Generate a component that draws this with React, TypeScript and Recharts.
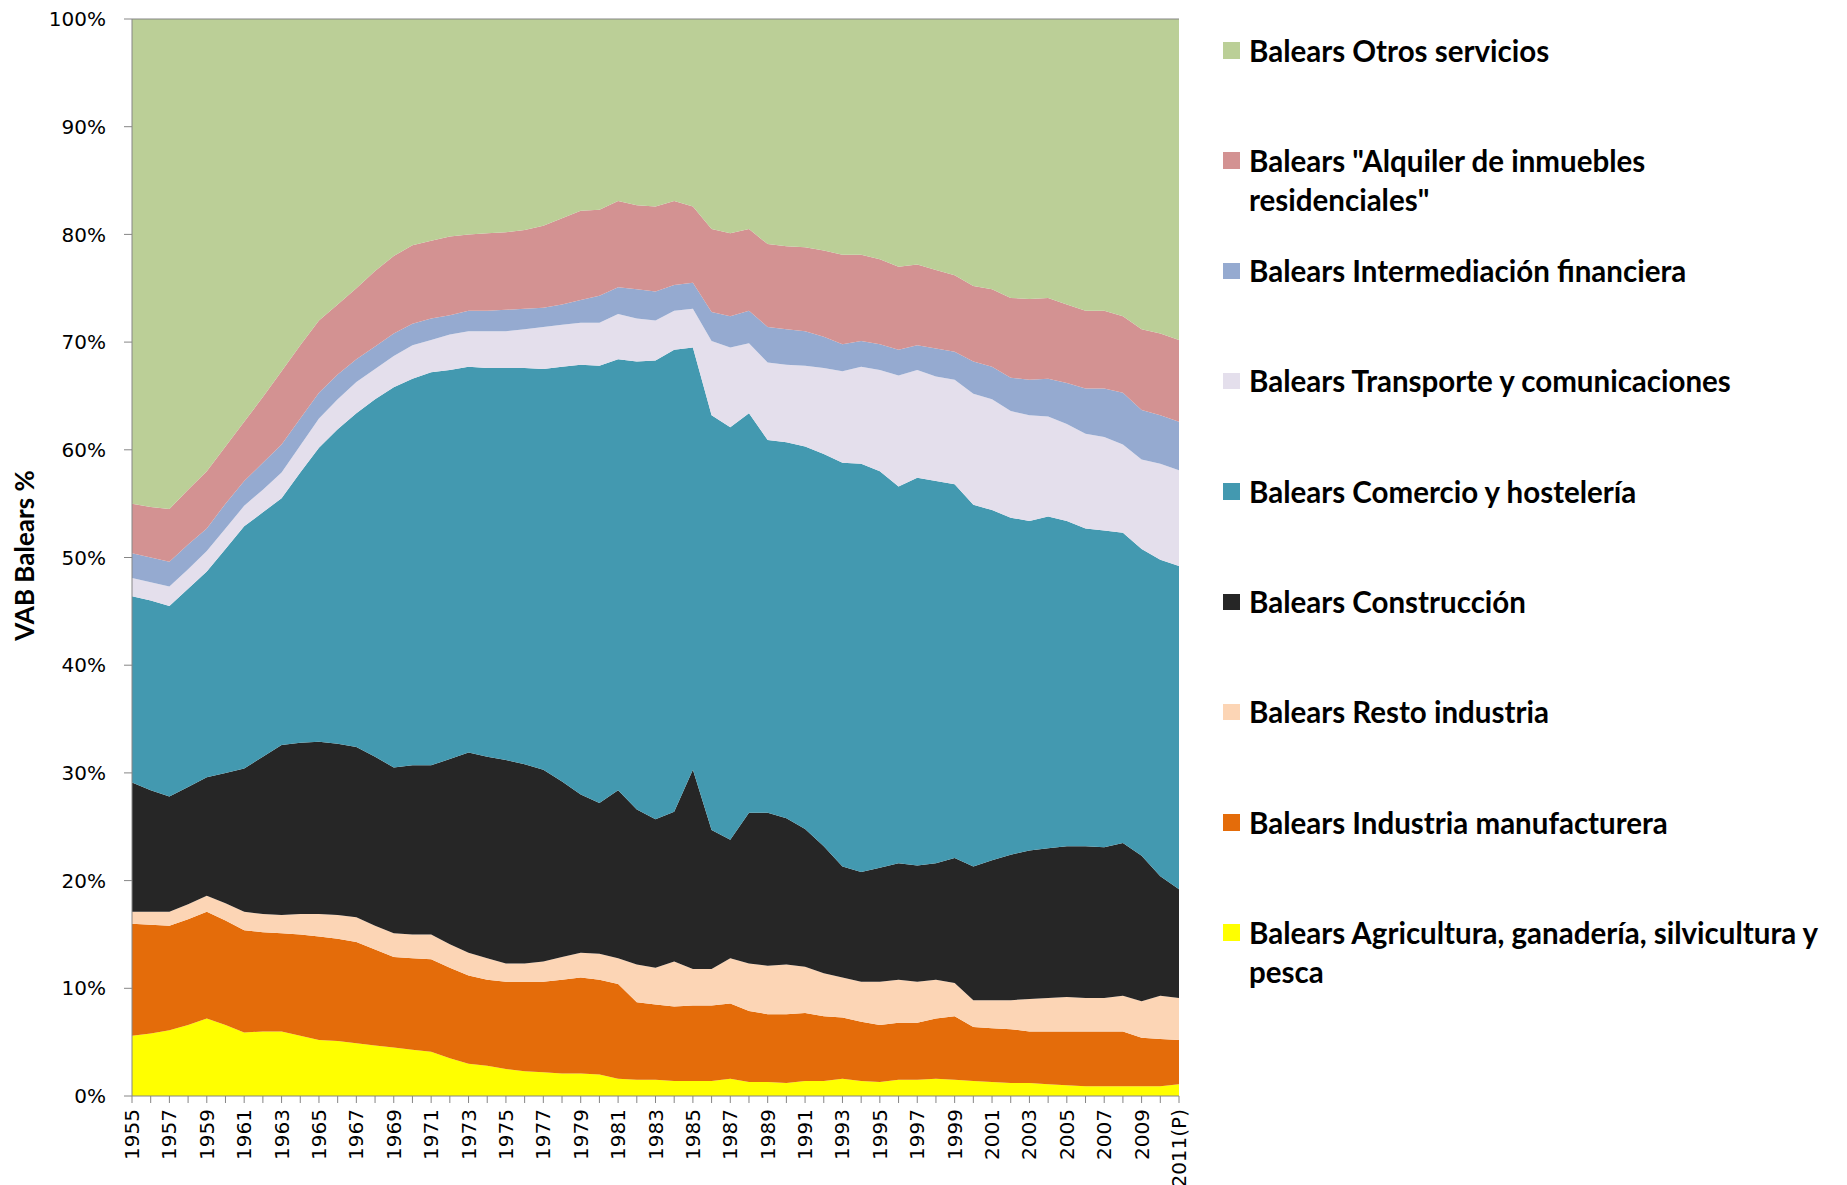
import React from 'react';
import { AreaChart, Area, XAxis, YAxis, ReferenceLine, Label } from 'recharts';

const years = [
  '1955', '1956', '1957', '1958', '1959', '1960', '1961', '1962', '1963', '1964',
  '1965', '1966', '1967', '1968', '1969', '1970', '1971', '1972', '1973', '1974',
  '1975', '1976', '1977', '1978', '1979', '1980', '1981', '1982', '1983', '1984',
  '1985', '1986', '1987', '1988', '1989', '1990', '1991', '1992', '1993', '1994',
  '1995', '1996', '1997', '1998', '1999', '2000', '2001', '2002', '2003', '2004',
  '2005', '2006', '2007', '2008', '2009', '2010', '2011(P)',
];

const agricultura = [
  5.6, 5.8, 6.1, 6.6, 7.2, 6.6, 5.9, 6.0, 6.0, 5.6,
  5.2, 5.1, 4.9, 4.7, 4.5, 4.3, 4.1, 3.5, 3.0, 2.8,
  2.5, 2.3, 2.2, 2.1, 2.1, 2.0, 1.6, 1.5, 1.5, 1.4,
  1.4, 1.4, 1.6, 1.3, 1.3, 1.2, 1.4, 1.4, 1.6, 1.4,
  1.3, 1.5, 1.5, 1.6, 1.5, 1.4, 1.3, 1.2, 1.2, 1.1,
  1.0, 0.9, 0.9, 0.9, 0.9, 0.9, 1.1,
];
const manufacturera = [
  10.4, 10.1, 9.7, 9.8, 9.9, 9.7, 9.5, 9.2, 9.1, 9.4,
  9.6, 9.5, 9.4, 8.9, 8.4, 8.5, 8.6, 8.4, 8.2, 8.0,
  8.1, 8.3, 8.4, 8.7, 8.9, 8.8, 8.8, 7.2, 7.0, 6.9,
  7.0, 7.0, 7.0, 6.6, 6.3, 6.4, 6.3, 6.0, 5.7, 5.5,
  5.3, 5.3, 5.3, 5.6, 5.9, 5.0, 5.0, 5.0, 4.8, 4.9,
  5.0, 5.1, 5.1, 5.1, 4.5, 4.4, 4.1,
];
const restoIndustria = [
  1.1, 1.2, 1.3, 1.4, 1.5, 1.6, 1.7, 1.7, 1.7, 1.9,
  2.1, 2.2, 2.3, 2.2, 2.2, 2.2, 2.3, 2.2, 2.1, 2.0,
  1.7, 1.7, 1.9, 2.1, 2.3, 2.4, 2.4, 3.5, 3.4, 4.2,
  3.4, 3.4, 4.2, 4.4, 4.5, 4.6, 4.3, 4.0, 3.7, 3.7,
  4.0, 4.0, 3.8, 3.6, 3.1, 2.5, 2.6, 2.7, 3.0, 3.1,
  3.2, 3.1, 3.1, 3.3, 3.4, 4.0, 3.9,
];
const construccion = [
  12.0, 11.3, 10.7, 10.9, 11.0, 12.1, 13.3, 14.6, 15.8, 15.9,
  16.0, 15.9, 15.8, 15.7, 15.4, 15.7, 15.7, 17.2, 18.6, 18.7,
  18.9, 18.5, 17.8, 16.3, 14.7, 14.0, 15.6, 14.4, 13.8, 13.9,
  18.5, 12.9, 11.0, 14.0, 14.2, 13.6, 12.8, 11.8, 10.3, 10.2,
  10.6, 10.8, 10.8, 10.8, 11.6, 12.4, 13.0, 13.5, 13.8, 13.9,
  14.0, 14.1, 14.0, 14.2, 13.5, 11.1, 10.1,
];
const comercio = [
  17.3, 17.6, 17.7, 18.4, 19.1, 20.8, 22.5, 22.7, 22.9, 25.1,
  27.3, 29.2, 31.0, 33.2, 35.3, 35.9, 36.5, 36.1, 35.8, 36.1,
  36.4, 36.8, 37.2, 38.5, 39.9, 40.6, 40.0, 41.6, 42.6, 42.9,
  39.2, 38.5, 38.3, 37.1, 34.6, 34.9, 35.5, 36.4, 37.5, 37.9,
  36.8, 35.0, 36.0, 35.5, 34.7, 33.6, 32.5, 31.3, 30.6, 30.8,
  30.2, 29.5, 29.4, 28.8, 28.5, 29.4, 30.0,
];
const transporte = [
  1.7, 1.7, 1.8, 1.8, 1.9, 1.9, 1.9, 2.1, 2.4, 2.5,
  2.7, 2.8, 2.9, 2.8, 2.9, 3.1, 3.0, 3.3, 3.3, 3.4,
  3.4, 3.6, 3.9, 3.9, 3.9, 4.0, 4.2, 4.0, 3.7, 3.6,
  3.6, 6.9, 7.4, 6.5, 7.2, 7.2, 7.5, 8.0, 8.5, 9.0,
  9.4, 10.3, 10.0, 9.7, 9.7, 10.3, 10.3, 9.9, 9.8, 9.3,
  9.0, 8.8, 8.7, 8.2, 8.3, 8.9, 8.9,
];
const financiera = [
  2.3, 2.3, 2.3, 2.3, 2.1, 2.3, 2.3, 2.5, 2.6, 2.5,
  2.4, 2.3, 2.1, 2.1, 2.1, 2.0, 2.0, 1.8, 1.9, 1.9,
  2.0, 1.9, 1.8, 1.9, 2.1, 2.5, 2.5, 2.7, 2.7, 2.4,
  2.4, 2.7, 2.9, 3.0, 3.3, 3.3, 3.2, 2.9, 2.5, 2.4,
  2.4, 2.4, 2.3, 2.6, 2.6, 3.0, 3.0, 3.1, 3.3, 3.5,
  3.8, 4.2, 4.5, 4.8, 4.6, 4.5, 4.5,
];
const alquiler = [
  4.6, 4.7, 4.9, 5.1, 5.3, 5.3, 5.5, 6.1, 6.8, 6.8,
  6.7, 6.5, 6.6, 7.0, 7.2, 7.3, 7.2, 7.3, 7.1, 7.2,
  7.2, 7.3, 7.6, 8.0, 8.3, 8.0, 8.0, 7.8, 7.9, 7.8,
  7.1, 7.7, 7.7, 7.6, 7.7, 7.7, 7.8, 8.0, 8.3, 8.0,
  7.9, 7.7, 7.5, 7.3, 7.1, 7.0, 7.2, 7.4, 7.5, 7.5,
  7.3, 7.2, 7.2, 7.1, 7.5, 7.6, 7.6,
];
const otrosServicios = [
  45.0, 45.3, 45.5, 43.7, 42.0, 39.7, 37.4, 35.1, 32.7, 30.3,
  28.0, 26.5, 25.0, 23.4, 22.0, 21.0, 20.6, 20.2, 20.0, 19.9,
  19.8, 19.6, 19.2, 18.5, 17.8, 17.7, 16.9, 17.3, 17.4, 16.9,
  17.4, 19.5, 19.9, 19.5, 20.9, 21.1, 21.2, 21.5, 21.9, 21.9,
  22.3, 23.0, 22.8, 23.3, 23.8, 24.8, 25.1, 25.9, 26.0, 25.9,
  26.5, 27.1, 27.1, 27.6, 28.8, 29.2, 29.8,
];

const yTicks = [0, 0.1, 0.2, 0.3, 0.4, 0.5, 0.6, 0.7, 0.8, 0.9, 1];

// Series, bottom of the stack first
const series = [
  { key: 'agri', values: agricultura, color: '#FFFF00', lines: ['Balears Agricultura, ganadería, silvicultura y', 'pesca'] },
  { key: 'manuf', values: manufacturera, color: '#E46C0A', lines: ['Balears Industria manufacturera'] },
  { key: 'resto', values: restoIndustria, color: '#FCD5B5', lines: ['Balears Resto industria'] },
  { key: 'constr', values: construccion, color: '#262626', lines: ['Balears Construcción'] },
  { key: 'comercio', values: comercio, color: '#4399B0', lines: ['Balears Comercio y hostelería'] },
  { key: 'transp', values: transporte, color: '#E4DFEC', lines: ['Balears Transporte y comunicaciones'] },
  { key: 'fin', values: financiera, color: '#95AAD0', lines: ['Balears Intermediación financiera'] },
  { key: 'alq', values: alquiler, color: '#D39292', lines: ['Balears "Alquiler de inmuebles', 'residenciales"'] },
  { key: 'otros', values: otrosServicios, color: '#BBCF97', lines: ['Balears Otros servicios'] },
];

const data = years.map((year, i) => {
  const row: Record<string, string | number> = { year };
  series.forEach((s) => {
    row[s.key] = s.values[i];
  });
  return row;
});

const AXIS = '#868686';
const TICK_FONT = '"DejaVu Sans", Verdana, sans-serif';
const LABEL_FONT = 'Lato, "Open Sans", sans-serif';

const XTick = (props: any) => {
  const { x, y, payload } = props;
  const idx = years.indexOf(payload.value);
  if (idx % 2 !== 0) return <g />;
  return (
    <g transform={`translate(${x},${y})`}>
      <text
        transform="rotate(-90)"
        textAnchor="end"
        dominantBaseline="central"
        fontFamily={TICK_FONT}
        fontSize={20}
        fill="#000"
      >
        {payload.value}
      </text>
    </g>
  );
};

const YTitle = (props: any) => {
  const vb = props.viewBox || { y: 19, height: 1077 };
  const cy = vb.y + vb.height / 2 - 2;
  return (
    <text
      x={24}
      y={cy}
      transform={`rotate(-90, 24, ${cy})`}
      textAnchor="middle"
      dominantBaseline="central"
      fontFamily={LABEL_FONT}
      fontWeight={700}
      fontSize={26}
      fill="#000"
    >
      VAB Balears %
    </text>
  );
};

const LegendBlock = () => {
  const entries = [...series].reverse();
  return (
    <div style={{ position: 'absolute', left: 0, top: 0 }}>
      {entries.map((s, i) => {
        const cy = 50 + i * 110.3;
        return (
          <div key={s.key}>
            <div
              style={{
                position: 'absolute',
                left: 1223,
                top: cy - 8,
                width: 16.5,
                height: 16.5,
                background: s.color,
              }}
            />
            <div
              style={{
                position: 'absolute',
                left: 1249,
                top: cy - 19.5,
                whiteSpace: 'nowrap',
                fontFamily: LABEL_FONT,
                fontWeight: 700,
                fontSize: 29.5,
                lineHeight: '39px',
                color: '#000',
              }}
            >
              {s.lines.map((l, j) => (
                <div key={j}>{l}</div>
              ))}
            </div>
          </div>
        );
      })}
    </div>
  );
};

export default function App() {
  return (
    <div style={{ position: 'absolute', left: 0, top: 0, width: 1847, height: 1185, background: '#fff' }}>
      <AreaChart
        width={1847}
        height={1185}
        data={data}
        stackOffset="expand"
        margin={{ top: 19, right: 668, bottom: 0, left: 0 }}
      >
        <XAxis
          dataKey="year"
          interval={0}
          height={89}
          tickSize={7}
          tickMargin={6}
          tick={<XTick />}
          stroke={AXIS}
          tickLine={{ stroke: AXIS }}
          axisLine={{ stroke: AXIS }}
        />
        <YAxis
          width={132}
          domain={[0, 1]}
          ticks={yTicks}
          tickFormatter={(v: number) => `${Math.round(v * 100)}%`}
          tickSize={8}
          tickMargin={18}
          tick={{ fontFamily: TICK_FONT, fontSize: 20, fill: '#000' }}
          stroke={AXIS}
          tickLine={{ stroke: AXIS }}
          axisLine={{ stroke: AXIS }}
        >
          <Label content={<YTitle />} />
        </YAxis>
        <YAxis
          yAxisId="right"
          orientation="right"
          width={0}
          mirror
          domain={[0, 1]}
          ticks={yTicks}
          tickFormatter={() => ''}
          tickSize={6}
          stroke={AXIS}
          tickLine={{ stroke: AXIS }}
          axisLine={{ stroke: AXIS }}
        />
        {series.map((s) => (
          <Area
            key={s.key}
            type="linear"
            dataKey={s.key}
            name={s.lines.join(' ')}
            stackId="1"
            stroke="none"
            fill={s.color}
            fillOpacity={1}
            dot={false}
            activeDot={false}
            isAnimationActive={false}
          />
        ))}
        <ReferenceLine y={1} stroke={AXIS} />
      </AreaChart>
      <LegendBlock />
    </div>
  );
}
